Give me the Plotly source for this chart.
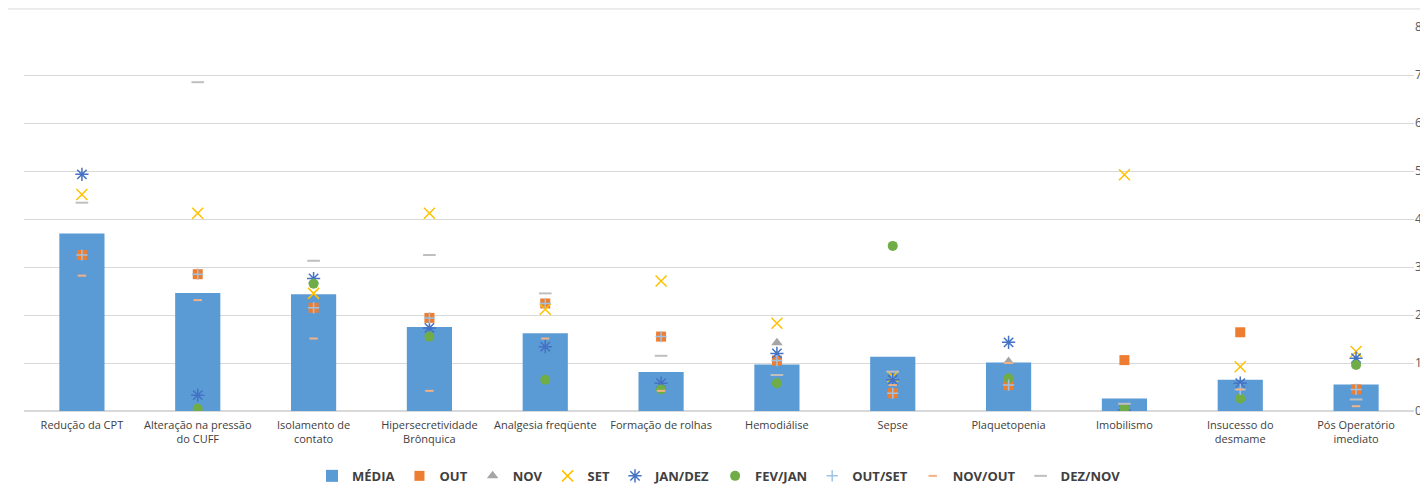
import plotly.graph_objects as go

categories = ["Redução da CPT", "Alteração na pressão<br>do CUFF", "Isolamento de<br>contato",
              "Hipersecretividade<br>Brônquica", "Analgesia freqüente", "Formação de rolhas",
              "Hemodiálise", "Sepse", "Plaquetopenia", "Imobilismo",
              "Insucesso do<br>desmame", "Pós Operatório<br>imediato"]

media = [3.7, 2.46, 2.43, 1.75, 1.62, 0.81, 0.97, 1.13, 1.01, 0.26, 0.65, 0.55]
out_ = [3.25, 2.85, 2.15, 1.94, 2.24, 1.55, 1.05, 0.37, 0.54, 1.06, 1.64, 0.45]
nov = [None, None, None, None, None, None, 1.42, None, 1.03, None, None, None]
set_ = [4.51, 4.12, 2.45, 4.12, 2.12, 2.71, 1.83, 0.72, None, 4.92, 0.92, 1.24]
jan_dez = [4.93, 0.33, 2.76, 1.73, 1.34, 0.58, 1.2, 0.65, 1.43, 0.02, 0.58, 1.1]
fev_jan = [None, 0.05, 2.65, 1.55, 0.65, 0.45, 0.58, 3.44, 0.68, 0.06, 0.26, 0.96]
out_set = [3.25, 2.85, 2.15, 1.94, 2.24, 1.55, 1.05, 0.37, 0.54, None, 0.45, 0.45]
nov_out = [2.82, 2.31, 1.51, 0.42, 1.51, 0.42, None, 0.54, 1.0, None, 0.45, 0.1]
dez_nov = [4.34, 6.85, 3.13, 3.25, 2.45, 1.15, 0.75, 0.82, None, 0.15, None, 0.24]

fig = go.Figure()
fig.add_trace(go.Bar(x=categories, y=media, name="MÉDIA", marker_color="#5B9BD5",
                     marker_line_width=0))


def pts(y, name, symbol, color, size, lw=0, line_color=None):
    fig.add_trace(go.Scatter(
        x=categories, y=y, name=name, mode="markers",
        marker=dict(symbol=symbol, color=color, size=size,
                    line=dict(width=lw, color=line_color or color))))


pts(out_, "OUT", "square", "#ED7D31", 10)
pts(nov, "NOV", "triangle-up", "#A5A5A5", 10)
pts(set_, "SET", "x-thin", "#FFC000", 11, 1.5)
pts(jan_dez, "JAN/DEZ", "asterisk", "#4472C4", 11, 1.5)
pts(fev_jan, "FEV/JAN", "circle", "#70AD47", 10)
pts(out_set, "OUT/SET", "cross-thin", "#9DC3E6", 8, 1.5)
pts(nov_out, "NOV/OUT", "line-ew", "#F4B183", 6, 2)
pts(dez_nov, "DEZ/NOV", "line-ew", "#BFBFBF", 9, 2)

# page body has an 8px margin, so the figure is sized to the visible area
fig.update_layout(
    width=1420, height=489,
    margin=dict(l=16, r=14, t=19, b=86, autoexpand=False),
    paper_bgcolor="white", plot_bgcolor="white",
    font=dict(family="Open Sans", size=11, color="#404040"),
    bargap=0.61,
    showlegend=True,
    legend=dict(orientation="h", x=0.5, xanchor="center", y=-0.169, yanchor="middle",
                font=dict(size=13, color="#404040", family="Open Sans", weight="bold"),
                itemwidth=30, traceorder="normal"),
    xaxis=dict(range=[-0.5, 11.5], showgrid=False, showline=False, ticks="", tickangle=0,
               automargin=False, ticklabelstandoff=6,
               tickfont=dict(size=11, color="#404040")),
    yaxis=dict(side="right", range=[0, 8], dtick=1, showgrid=True, gridcolor="#D9D9D9",
               zeroline=True, zerolinecolor="#D9D9D9", showline=False, ticks="",
               automargin=False, tickfont=dict(size=12, color="#595959")),
    shapes=[dict(type="line", xref="paper", yref="paper", x0=-0.02, x1=1.01, y0=1.047, y1=1.047,
                 line=dict(color="#D9D9D9", width=1))],
)

fig.write_html("out.html")
